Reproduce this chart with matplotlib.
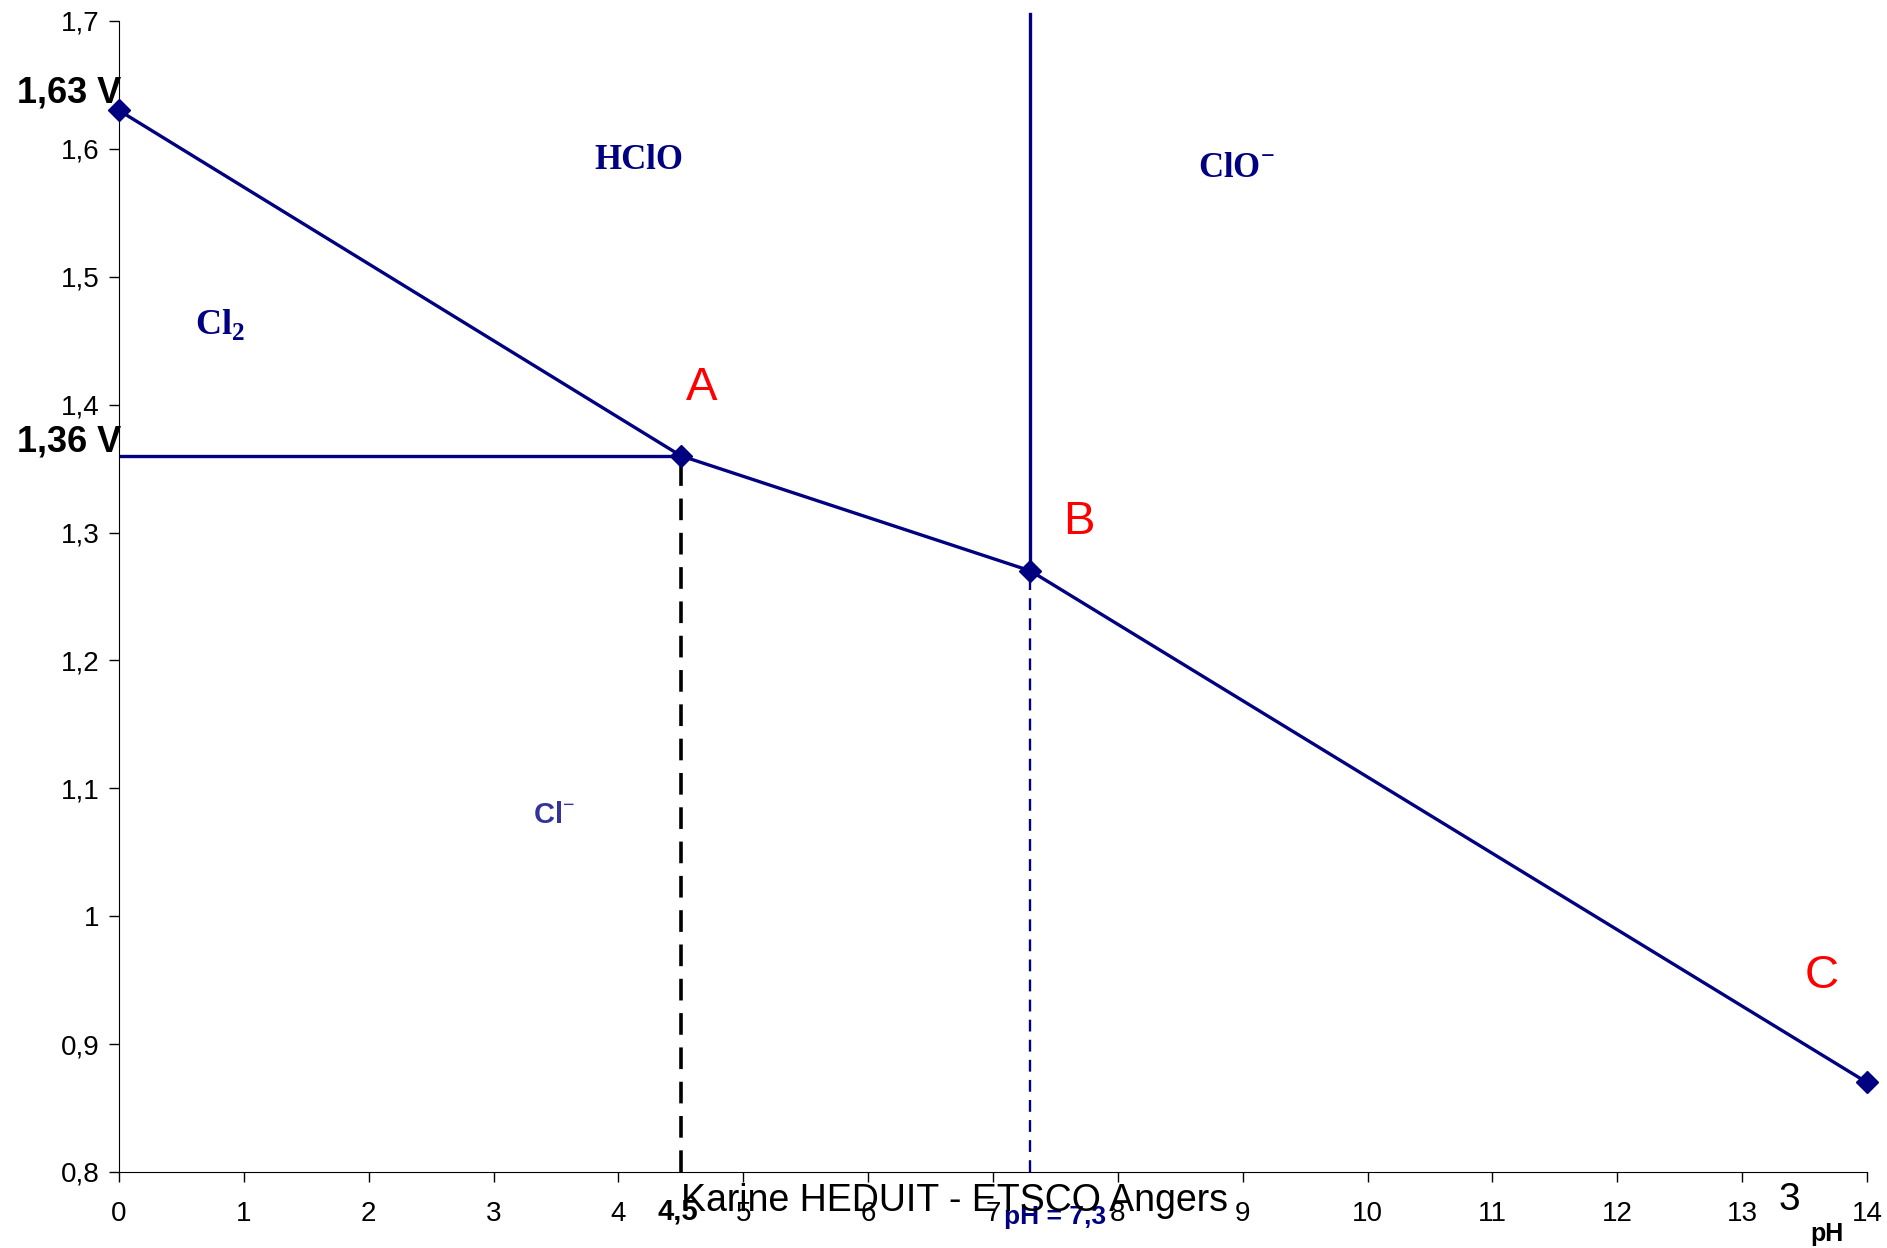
import matplotlib
matplotlib.use("Agg")
import matplotlib.pyplot as plt
import numpy as np

# points du diagramme E-pH du chlore
ph_pts = [0, 4.5, 7.3, 14]
e_pts = [1.63, 1.36, 1.27, 0.87]
e_cl2 = 1.36
ph_a = 4.5
ph_b = 7.3
e_top = 1.7055

y_ticks = [0.8, 0.9, 1.0, 1.1, 1.2, 1.3, 1.4, 1.5, 1.6, 1.7]
y_labels = ["0,8", "0,9", "1", "1,1", "1,2", "1,3", "1,4", "1,5", "1,6", "1,7"]
x_ticks = list(range(0, 15))

navy = "#000080"
plt.rcParams['font.family'] = ['Liberation Sans', 'DejaVu Sans']
plt.rcParams['mathtext.fontset'] = 'custom'
plt.rcParams['mathtext.bf'] = 'Liberation Serif:bold'
plt.rcParams['mathtext.rm'] = 'Liberation Serif'

fig = plt.figure(figsize=(18.87, 12.48), dpi=100)
ax = fig.add_axes([0.0631, 0.0609, 0.9263, 0.9223])

ax.plot(ph_pts, e_pts, color=navy, lw=2.4, marker='D', markersize=11, zorder=5, clip_on=False)
ax.plot([0, ph_a], [e_cl2, e_cl2], color=navy, lw=2.4)
ax.plot([ph_b, ph_b], [e_pts[2], e_top], color=navy, lw=2.4, clip_on=False)
ax.plot([ph_a, ph_a], [0.8, e_cl2], color='black', lw=2.6, ls=(0, (6, 3.5)), zorder=4)
ax.plot([ph_b, ph_b], [0.8, e_pts[2]], color=navy, lw=1.7, ls=(0, (5, 3.5)), zorder=4)

ax.set_xlim(0, 14)
ax.set_ylim(0.8, 1.7)
ax.set_xticks(x_ticks)
ax.set_xticklabels([str(t) for t in x_ticks])
ax.set_yticks(y_ticks)
ax.set_yticklabels(y_labels)
ax.tick_params(labelsize=20, length=7, width=1, direction='out')
ax.tick_params(axis='x', pad=14)
ax.tick_params(axis='y', pad=7)
for s in ['top', 'right']:
    ax.spines[s].set_visible(False)

# especes
serif = ['Liberation Serif', 'DejaVu Serif']
ax.text(4.16, 1.591, "HClO", family=serif, weight='bold', fontsize=25, color=navy, ha='center', va='center')
ax.text(8.95, 1.585, r"ClO$^{\mathbf{-}}$", family=serif, weight='bold', fontsize=25, color=navy, ha='center', va='center')
ax.text(0.81, 1.463, r"Cl$_{\mathbf{2}}$", family=serif, weight='bold', fontsize=26, color=navy, ha='center', va='center')
ax.text(3.48, 1.079, r"Cl$^{\mathbf{-}}$", weight='bold', fontsize=21, color='#333399', ha='center', va='center')

for lab, x, y in [("A", 4.67, 1.413), ("B", 7.69, 1.308), ("C", 13.64, 0.953)]:
    ax.text(x, y, lab, fontsize=34, color='red', ha='center', va='center')

# etiquettes hors axes
fig.text(121 / 1887, 1 - 93 / 1248, "1,63 V", fontsize=26, weight='bold', ha='right', va='center')
fig.text(121 / 1887, 1 - 442 / 1248, "1,36 V", fontsize=26, weight='bold', ha='right', va='center')
fig.text(678 / 1887, 1 - 1211 / 1248, "4,5", fontsize=21, weight='bold', ha='center', va='center')
fig.text(1055 / 1887, 1 - 1217 / 1248, "pH = 7,3", fontsize=19, weight='bold', color=navy, ha='center', va='center')
fig.text(955 / 1887, 1 - 1201 / 1248, "Karine HEDUIT - ETSCO Angers", fontsize=27, ha='center', va='center')
fig.text(1789 / 1887, 1 - 1200 / 1248, "3", fontsize=28, ha='center', va='center')
fig.text(1827 / 1887, 1 - 1234 / 1248, "pH", fontsize=18, weight='bold', ha='center', va='center')

fig.savefig("out.png", dpi=100)
